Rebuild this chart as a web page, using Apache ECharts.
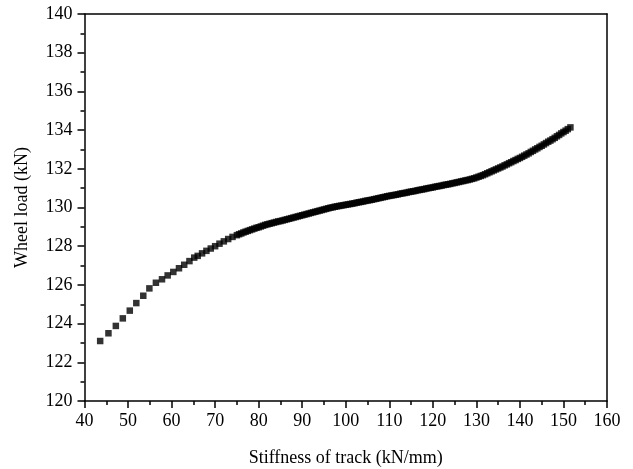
<!DOCTYPE html>
<html>
<head>
<meta charset="utf-8">
<script src="https://cdn.jsdelivr.net/npm/echarts@6/dist/echarts.min.js"></script>
<style>
html,body{margin:0;padding:0;background:#fff;}
#chart{width:633px;height:469px;}
</style>
</head>
<body>
<div id="chart"></div>
<script>
var stiffness = [43.6,45.5,47.2,48.8,50.4,51.9,53.5,54.9,56.4,57.8,59.1,60.4,61.7,62.9,64.1,65.2,
66,67,68,69,70,71,72,73,74,
75,75.5,76,76.5,77,77.5,78,78.5,79,79.5,80,80.5,81,81.5,82,82.5,83,83.5,84,84.5,85,85.5,86,86.5,87,87.5,88,88.5,89,89.5,
90,90.5,91,91.5,92,92.5,93,93.5,94,94.5,95,95.5,96,96.5,97,97.5,98,98.5,99,99.5,100,100.5,101,101.5,102,102.5,103,103.5,104,104.5,
105,105.5,106,106.5,107,107.5,108,108.5,109,109.5,110,110.5,111,111.5,112,112.5,113,113.5,114,114.5,115,115.5,116,116.5,117,117.5,
118,118.5,119,119.5,120,120.5,121,121.5,122,122.5,123,123.5,124,124.5,125,125.5,126,126.5,127,127.5,128,128.5,129,129.5,130,130.5,
131,131.5,132,132.5,133,133.5,134,134.5,135,135.5,136,136.5,137,137.5,138,138.5,139,139.5,140,140.5,141,141.5,142,142.5,143,143.5,
144,144.5,145,145.5,146,146.5,147,147.5,148,148.5,149,149.5,150,150.5,151,151.6];
var wheelLoad = [123.10,123.50,123.88,124.27,124.67,125.06,125.44,125.82,126.11,126.29,126.49,126.67,126.86,127.04,127.23,127.41,
127.50,127.63,127.76,127.88,128.00,128.13,128.25,128.37,128.48,
128.57,128.62,128.66,128.71,128.75,128.79,128.83,128.87,128.91,128.95,128.98,129.02,129.06,129.10,129.13,129.16,129.19,129.22,129.25,129.28,129.30,129.33,129.36,129.39,129.42,129.45,129.48,129.51,129.54,129.57,
129.60,129.63,129.66,129.69,129.72,129.75,129.78,129.81,129.84,129.87,129.90,129.93,129.96,129.99,130.01,130.04,130.06,130.08,130.10,130.12,130.14,130.16,130.18,130.20,130.22,130.25,130.27,130.29,130.31,130.34,
130.36,130.38,130.40,130.43,130.45,130.48,130.50,130.53,130.55,130.58,130.60,130.62,130.64,130.66,130.68,130.71,130.73,130.75,130.77,130.80,130.82,130.84,130.86,130.89,130.91,130.93,
130.95,130.98,131.00,131.02,131.04,131.07,131.09,131.11,131.13,131.16,131.18,131.20,131.22,131.25,131.27,131.30,131.32,131.35,131.37,131.40,131.42,131.45,131.48,131.51,131.55,131.59,
131.63,131.67,131.72,131.77,131.82,131.87,131.92,131.97,132.02,132.07,132.12,132.18,132.23,132.29,132.34,132.40,132.45,132.51,132.56,132.62,132.68,132.74,132.80,132.87,132.93,133.00,
133.06,133.13,133.19,133.26,133.33,133.40,133.46,133.53,133.60,133.68,133.75,133.83,133.90,133.97,134.05,134.14];
var xTitle = 'Stiffness of track (kN/mm)';
var yTitle = 'Wheel load (kN)';

var pts = stiffness.map(function(x,i){return [x, wheelLoad[i]];});
var font = 'Liberation Serif';
var chart = echarts.init(document.getElementById('chart'), null, {renderer:'canvas'});
chart.setOption({
  animation:false,
  backgroundColor:'#fff',
  textStyle:{fontFamily:font},
  grid:{left:84.5, right:26, top:14, bottom:68, show:false, containLabel:false, outerBoundsMode:'none'},
  xAxis:[{
    type:'value', min:40, max:160, interval:10,
    name:xTitle, nameLocation:'middle', nameGap:48,
    nameTextStyle:{fontFamily:font, fontSize:18, color:'#000'},
    axisLine:{show:true, onZero:false, lineStyle:{color:'#000', width:1.5}},
    axisTick:{show:true, length:7, lineStyle:{color:'#000', width:1.5}},
    minorTick:{show:true, splitNumber:2, length:4, lineStyle:{color:'#000', width:1.5}},
    axisLabel:{fontFamily:font, fontSize:18, color:'#000', margin:11},
    splitLine:{show:false}
  },{
    type:'value', position:'top', min:40, max:160, interval:10,
    axisLine:{show:true, onZero:false, lineStyle:{color:'#000', width:1.5}},
    axisTick:{show:false}, axisLabel:{show:false}, splitLine:{show:false}
  }],
  yAxis:[{
    type:'value', min:120, max:140, interval:2,
    name:yTitle, nameLocation:'middle', nameGap:53, nameRotate:90,
    nameTextStyle:{fontFamily:font, fontSize:18, color:'#000'},
    axisLine:{show:true, onZero:false, lineStyle:{color:'#000', width:1.5}},
    axisTick:{show:true, length:7, lineStyle:{color:'#000', width:1.5}},
    minorTick:{show:true, splitNumber:2, length:4, lineStyle:{color:'#000', width:1.5}},
    axisLabel:{fontFamily:font, fontSize:18, color:'#000', margin:12},
    splitLine:{show:false}
  },{
    type:'value', position:'right', min:120, max:140, interval:2,
    axisLine:{show:true, onZero:false, lineStyle:{color:'#000', width:1.5}},
    axisTick:{show:false}, axisLabel:{show:false}, splitLine:{show:false}
  }],
  series:[{
    type:'scatter', xAxisIndex:0, yAxisIndex:0,
    symbol:'rect', symbolSize:6.5,
    itemStyle:{color:'#000'},
    data:pts
  }]
});
</script>
</body>
</html>
